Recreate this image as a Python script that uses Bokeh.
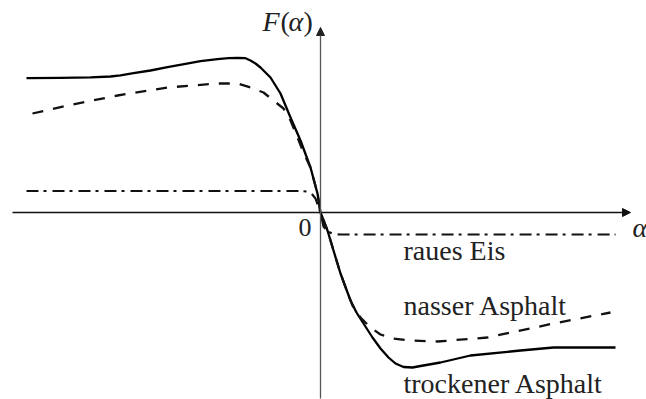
from bokeh.plotting import figure
from bokeh.models import Range1d, Arrow, NormalHead
from bokeh.core.properties import value
from bokeh.embed import file_html
from bokeh.resources import INLINE

# ---- data ----
alpha_dry = [-2.94, -2.60, -2.30, -2.10, -2.00, -1.87, -1.70, -1.53, -1.35, -1.20, -1.03,
             -0.92, -0.83, -0.75, -0.70, -0.65, -0.60, -0.50, -0.40, -0.30, -0.20, -0.10,
             -0.03, 0.00, 0.07, 0.13, 0.20, 0.30, 0.36, 0.43, 0.52, 0.60, 0.68, 0.75,
             0.83, 0.92, 1.00, 1.20, 1.50, 2.00, 2.33, 2.65, 2.95]
F_dry = [1.343, 1.347, 1.352, 1.36, 1.372, 1.393, 1.42, 1.453, 1.487, 1.513, 1.533,
         1.543, 1.547, 1.543, 1.52, 1.49, 1.45, 1.35, 1.19, 0.95, 0.72, 0.45,
         0.19, 0.00, -0.18, -0.38, -0.61, -0.88, -1.00, -1.11, -1.25, -1.36, -1.45, -1.51,
         -1.545, -1.55, -1.535, -1.50, -1.43, -1.38, -1.35, -1.35, -1.35]

alpha_wet = [-2.88, -2.53, -2.03, -1.53, -1.03, -0.83, -0.70, -0.57, -0.47, -0.37, -0.30,
             -0.23, -0.17, -0.10, -0.03, 0.00, 0.07, 0.13, 0.20, 0.27, 0.32, 0.40, 0.50,
             0.60, 0.73, 0.90, 1.17, 1.67, 2.33, 2.90]
F_wet = [0.99, 1.07, 1.17, 1.25, 1.29, 1.29, 1.25, 1.20, 1.12, 1.04, 0.92,
         0.75, 0.60, 0.45, 0.19, 0.00, -0.18, -0.38, -0.61, -0.80, -0.93, -1.05, -1.15,
         -1.22, -1.26, -1.28, -1.29, -1.25, -1.11, -1.00]

alpha_ice = [-2.94, -0.20, -0.14, -0.09, -0.05, 0.00, 0.03, 0.07, 0.13, 0.20, 2.95]
F_ice = [0.215, 0.215, 0.21, 0.19, 0.14, 0.00, -0.14, -0.19, -0.215, -0.22, -0.22]

curve_labels = ["raues Eis", "nasser Asphalt", "trockener Asphalt"]
curve_label_x = [0.83, 0.83, 0.83]
curve_label_y = [-0.38, -0.93, -1.71]

# y-axis title pieces: F ( α )
ytitle_parts = ["F", "(", "α", ")"]
ytitle_x = [-0.58, -0.40, -0.32, -0.17]
ytitle_styles = ["italic", "normal", "italic", "normal"]

# axis extents
x_axis_from, x_axis_to = -3.08, 3.10
y_axis_from, y_axis_to = -1.86, 1.85

serif = value("Liberation Serif")

p = figure(width=646, height=399, output_backend="svg", toolbar_location=None,
           x_range=Range1d(-3.20, 3.26), y_range=Range1d(-1.87, 2.12),
           x_axis_location=None, y_axis_location=None, min_border=0)
p.grid.visible = False
p.outline_line_color = None
p.background_fill_color = "white"
p.border_fill_color = "white"

# axes with arrows
p.add_layout(Arrow(x_start=x_axis_from, y_start=0, x_end=x_axis_to, y_end=0,
                   line_color="#111111", line_width=1.3,
                   end=NormalHead(size=8, fill_color="#111111", line_color="#111111")))
p.add_layout(Arrow(x_start=0, y_start=y_axis_from, x_end=0, y_end=y_axis_to,
                   line_color="#555555", line_width=1.3,
                   end=NormalHead(size=8, fill_color="#222222", line_color="#222222")))

# curves
p.line(alpha_dry, F_dry, line_color="black", line_width=2.3, line_join="round")
p.line(alpha_wet, F_wet, line_color="#111111", line_width=2.3, line_dash="11 10",
       line_join="round")
p.line(alpha_ice, F_ice, line_color="#111111", line_width=2.2, line_dash="12 5 3 6",
       line_join="round")

# texts
p.text(x=curve_label_x, y=curve_label_y, text=curve_labels, text_font=serif,
       text_font_size="28px", text_baseline="alphabetic", text_color="#222222")
for part, px, st in zip(ytitle_parts, ytitle_x, ytitle_styles):
    p.text(x=[px], y=[1.91], text=[part], text_font=serif, text_font_style=st,
           text_font_size="28px", text_baseline="alphabetic", text_color="#222222")
p.text(x=[3.12], y=[-0.15], text=["α"], text_font=serif, text_font_style="italic",
       text_font_size="28px", text_baseline="alphabetic", text_color="#222222")
p.text(x=[-0.22], y=[-0.15], text=["0"], text_font=serif,
       text_font_size="26px", text_baseline="alphabetic", text_color="#222222")

open("out.html", "w").write(file_html(p, INLINE))
